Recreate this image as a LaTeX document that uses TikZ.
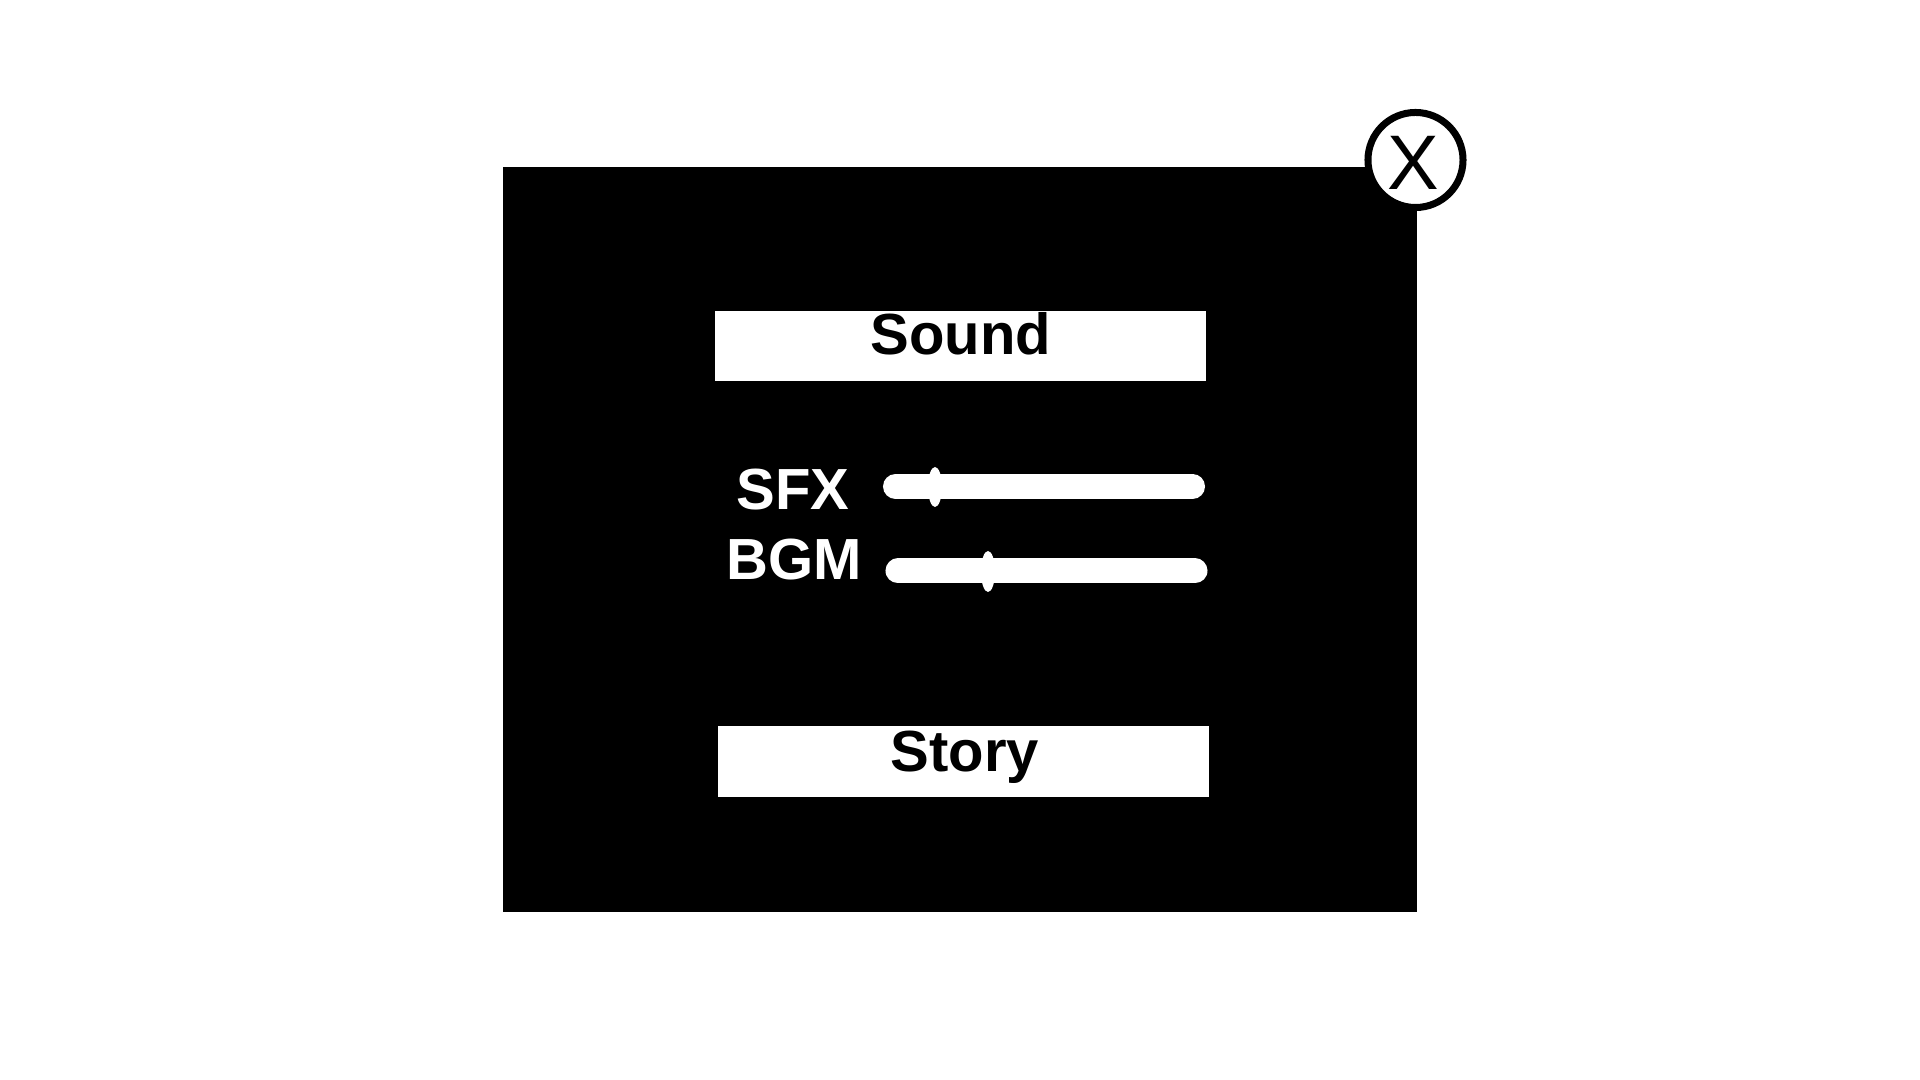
\documentclass[tikz,border=0pt]{standalone}
\usepackage{fontspec}
\setmainfont{Liberation Sans}
\begin{document}
\begin{tikzpicture}[x=0.01cm,y=-0.01cm,
  panel/.style={draw=none,fill=black,inner sep=0pt},
  wbox/.style={draw=none,fill=white,inner sep=0pt,minimum width=4.91cm,minimum height=0.70cm},
  lbl/.style={inner sep=0pt,anchor=base,font=\bfseries\fontsize{16.5}{18}\selectfont},
  wlbl/.style={lbl,text=white},
  track/.style={draw=white,line width=0.25cm,line cap=round},
  knob/.style={fill=white,draw=none}]
\useasboundingbox (0,0) rectangle (1920,1080);
\fill[white] (0,0) rectangle (1920,1080);
% panel
\node[panel,minimum width=9.14cm,minimum height=7.45cm] (panel) at (960,539.5) {};
% title box
\node[wbox] (soundbox) at (960.5,346) {};
\node[lbl] (sound) at (961,355) {Sound};
% story box
\node[wbox] (storybox) at (963.5,761.5) {};
\node[lbl] (story) at (965,772) {Story};
% labels
\node[wlbl] (sfx) at (793,510) {SFX};
\node[wlbl] (bgm) at (794,580) {BGM};
% sliders
\coordinate (s1a) at (895.5,486.5);
\coordinate (s1b) at (1192.5,486.5);
\coordinate (s2a) at (898,571);
\coordinate (s2b) at (1195,571);
\draw[track] (s1a) -- (s1b);
\draw[track] (s2a) -- (s2b);
\fill[knob] (935,487) ellipse [x radius=7, y radius=20];
\fill[knob] (988,571.5) ellipse [x radius=7, y radius=20.5];
% close button
\node[circle,draw=black,line width=0.07cm,fill=white,minimum size=0.95cm,inner sep=0pt] (close) at (1415.5,160) {};
\node[inner sep=0pt,anchor=base,font=\fontsize{22}{24}\selectfont] (xmark) at (1413,190) {X};
\end{tikzpicture}
\end{document}
